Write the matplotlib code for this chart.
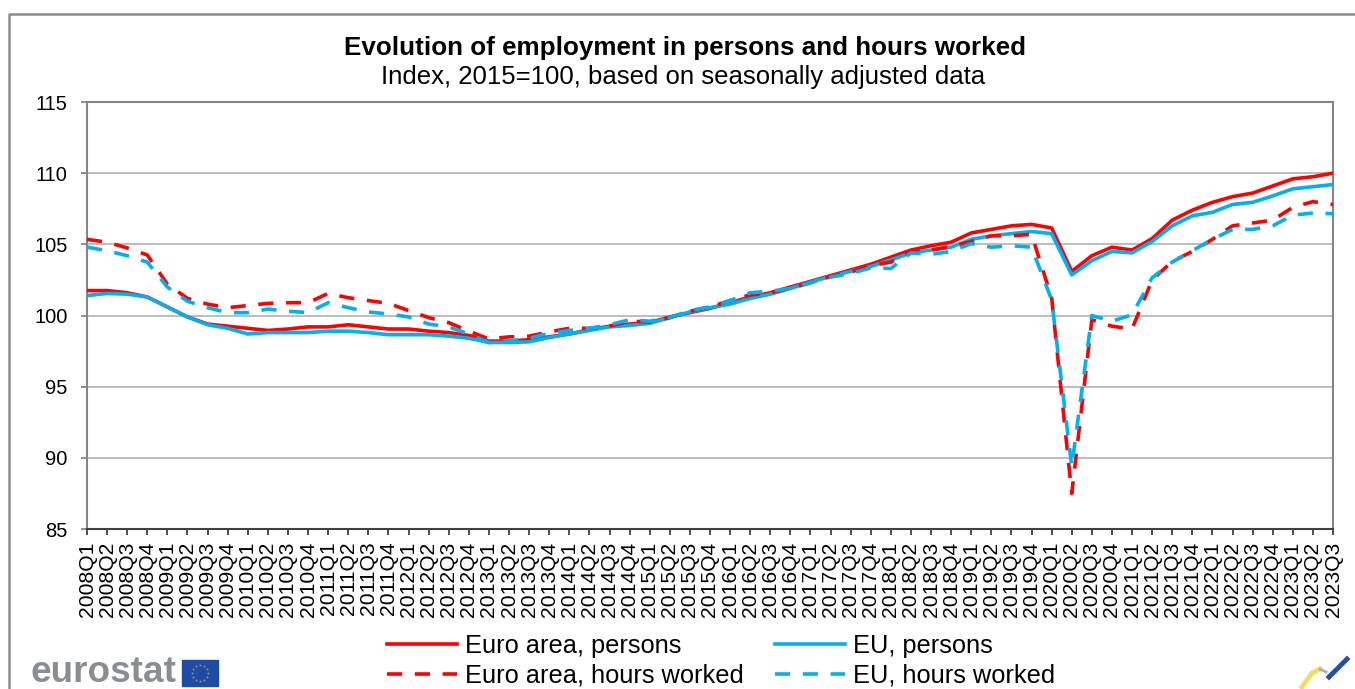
import matplotlib
matplotlib.use('Agg')
import matplotlib.pyplot as plt
from matplotlib.patches import Rectangle
import math

plt.rcParams['font.family'] = ['Liberation Sans', 'DejaVu Sans']

# Quarter labels
quarters = [f'{y}Q{q}' for y in range(2008, 2024) for q in range(1, 5)][:63]

# Values
ea_persons = [101.75, 101.75, 101.6, 101.3,
              100.6, 99.9, 99.4, 99.25,
              99.1, 98.95, 99.05, 99.2,
              99.2, 99.35, 99.2, 99.05,
              99.05, 98.9, 98.8, 98.6,
              98.2, 98.2, 98.3, 98.5,
              98.7, 99.0, 99.25, 99.4,
              99.5, 99.9, 100.2, 100.5,
              100.9, 101.3, 101.6, 102.0,
              102.4, 102.8, 103.2, 103.6,
              104.1, 104.6, 104.9, 105.15,
              105.8, 106.05, 106.3, 106.4,
              106.15, 103.1, 104.2, 104.8,
              104.6, 105.4, 106.7, 107.4,
              107.95, 108.35, 108.6, 109.1,
              109.6, 109.75, 110.0]
eu_persons = [101.4, 101.55, 101.5, 101.3,
              100.6, 99.9, 99.35, 99.1,
              98.7, 98.8, 98.8, 98.8,
              98.9, 98.9, 98.8, 98.65,
              98.65, 98.65, 98.55, 98.4,
              98.1, 98.1, 98.15, 98.45,
              98.7, 98.95, 99.2, 99.3,
              99.45, 99.85, 100.25, 100.55,
              100.8, 101.2, 101.5, 101.9,
              102.35, 102.75, 103.1, 103.45,
              103.9, 104.4, 104.6, 104.8,
              105.35, 105.6, 105.75, 105.9,
              105.75, 102.85, 103.85, 104.5,
              104.4, 105.2, 106.3, 107.0,
              107.25, 107.8, 107.95, 108.4,
              108.9, 109.05, 109.2]
ea_hours = [105.35, 105.15, 104.75, 104.25,
            102.2, 101.2, 100.8, 100.55,
            100.7, 100.85, 100.9, 100.9,
            101.55, 101.25, 101.05, 100.85,
            100.35, 99.85, 99.5, 98.9,
            98.35, 98.5, 98.55, 98.85,
            99.1, 99.1, 99.25, 99.6,
            99.55, 99.85, 100.3, 100.6,
            101.05, 101.45, 101.6, 101.9,
            102.3, 102.75, 103.05, 103.5,
            103.75, 104.5, 104.6, 104.85,
            105.2, 105.6, 105.6, 105.7,
            101.25, 87.5, 99.7, 99.25,
            99.05, 102.5, 103.8, 104.5,
            105.35, 106.3, 106.5, 106.7,
            107.6, 108.0, 107.8]
eu_hours = [104.8, 104.55, 104.2, 103.75,
            102.0, 101.0, 100.55, 100.2,
            100.2, 100.45, 100.3, 100.2,
            100.9, 100.55, 100.25, 100.1,
            99.9, 99.4, 99.2, 98.7,
            98.1, 98.2, 98.4, 98.75,
            98.95, 99.1, 99.35, 99.7,
            99.6, 99.85, 100.35, 100.6,
            101.05, 101.6, 101.7, 101.9,
            102.3, 102.7, 102.95, 103.35,
            103.3, 104.4, 104.3, 104.5,
            105.05, 104.8, 104.9, 104.8,
            101.1, 89.4, 100.0, 99.6,
            100.05, 102.65, 103.75, 104.55,
            105.35, 106.05, 106.05, 106.3,
            107.05, 107.2, 107.15]

W, H = 1355, 689
RED = '#ff0000'
CYAN = '#00b0f0'
GREY = '#868686'
DASH = (0, (4.2, 3.5))

fig = plt.figure(figsize=(W / 100, H / 100), dpi=100)
ax = fig.add_axes([87 / W, 1 - 529 / H, (1333 - 87) / W, (529 - 102) / H])

x = range(len(quarters))
ax.plot(x, ea_persons, color=RED, lw=2.6, label='Euro area, persons', zorder=3)
ax.plot(x, eu_persons, color=CYAN, lw=2.6, label='EU, persons', zorder=3)
ax.plot(x, ea_hours, color=RED, lw=2.6, ls=DASH, label='Euro area, hours worked', zorder=3)
ax.plot(x, eu_hours, color=CYAN, lw=2.6, ls=DASH, label='EU, hours worked', zorder=4)

ax.set_xlim(0, len(quarters) - 1)
ax.set_ylim(85, 115)
ax.set_yticks(range(85, 116, 5))
ax.set_xticks(list(x))
ax.set_xticklabels(quarters, rotation=90, fontsize=15.2)
ax.tick_params(axis='y', labelsize=14.5, length=4, width=1.3, color=GREY, pad=10)
ax.tick_params(axis='x', length=4, width=1.3, color='#404040', pad=5, labelcolor='black')
ax.grid(axis='y', color='#b8b8b8', lw=1.3)
ax.set_axisbelow(True)
for s in ['left', 'right', 'top']:
    ax.spines[s].set_color(GREY)
    ax.spines[s].set_linewidth(1.5)
ax.spines['bottom'].set_color('#404040')
ax.spines['bottom'].set_linewidth(1.5)

fig.text(685.5 / W, 1 - 48 / H, 'Evolution of employment in persons and hours worked',
         ha='center', va='center', fontsize=18.7, fontweight='bold')
fig.text(683.5 / W, 1 - 77 / H, 'Index, 2015=100, based on seasonally adjusted data',
         ha='center', va='center', fontsize=18.5)

handles, labels = ax.get_legend_handles_labels()
order = [0, 2, 1, 3]
fig.legend([handles[i] for i in order], [labels[i] for i in order], ncol=2,
           loc='center', bbox_to_anchor=(721 / W, 1 - 661 / H), frameon=False,
           fontsize=18.3, handlelength=2.76, handletextpad=0.3, columnspacing=1.26,
           labelspacing=0.22, borderpad=0)

# Outer frame and logos, in pixel coordinates
over = fig.add_axes([0, 0, 1, 1], zorder=-1)
over.set_xlim(0, W)
over.set_ylim(H, 0)
over.axis('off')
over.plot([9, 9, W], [H, 14, 14], color='#8c8c8c', lw=1.8)
over.text(31, 682, 'eurostat', fontsize=26.6, fontweight='bold', color='#8a8d91',
          va='baseline', ha='left')
over.add_patch(Rectangle((182, 660), 36, 26, color='#1f4ba5'))
stars_x = [200 + 8 * math.cos(i * math.pi / 6) for i in range(12)]
stars_y = [673 + 8 * math.sin(i * math.pi / 6) for i in range(12)]
over.scatter(stars_x, stars_y, s=2, color='#8f9a70', linewidths=0, zorder=3)
over.plot([1302, 1312, 1320], [687, 673, 669], color='#f0d848', lw=3.5, alpha=0.85)
over.plot([1320, 1326], [669, 672], color='#b0b0b0', lw=2)
over.plot([1329, 1347], [677, 659], color='#2450a0', lw=3.5)

fig.savefig('out.png', dpi=100)
